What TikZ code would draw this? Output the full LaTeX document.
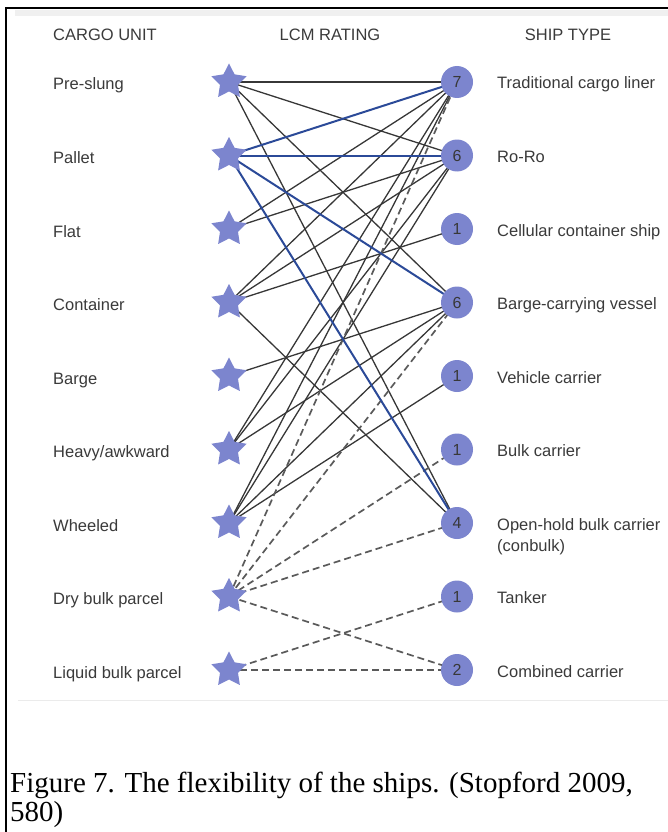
\documentclass[tikz,border=0pt]{standalone}
\usepackage{fontspec}
\setmainfont{Liberation Sans}
\newfontfamily\capfont{Liberation Serif}
\usetikzlibrary{shapes.geometric,backgrounds}
\definecolor{starblue}{RGB}{124,133,206}
\definecolor{lineblue}{RGB}{43,74,152}
\definecolor{txt}{RGB}{58,58,58}
\definecolor{darkline}{RGB}{55,55,55}
\definecolor{dashline}{RGB}{90,90,90}
\begin{document}
\begin{tikzpicture}[x=1pt,y=-1pt,
  lbl/.style={anchor=base west, inner sep=0pt, text=txt, font=\fontsize{16.5}{19}\selectfont},
  hdr/.style={anchor=base, inner sep=0pt, text=txt, font=\fontsize{16.5}{19}\selectfont},
  cargostar/.style={star, star points=5, star point ratio=1.95, fill=starblue, draw=none, minimum size=37pt, inner sep=0pt},
  rating/.style={circle, fill=starblue, draw=none, minimum size=32pt, inner sep=0pt, text=black!78, font=\fontsize{16}{16}\selectfont},
  link/.style={draw=darkline, line width=1.3pt},
  blink/.style={draw=lineblue, line width=2pt},
  dlink/.style={draw=dashline, line width=1.7pt, dash pattern=on 7pt off 4pt},
  caption/.style={anchor=base west, inner sep=0pt, text=black, font=\capfont\fontsize{29}{30}\selectfont},
]
\useasboundingbox (0,0) rectangle (668,832);

% frame
\fill[black!6] (15,10) rectangle (668,16);
\draw[black!8, line width=1pt] (18,700) -- (668,700);
\draw[black, line width=2pt] (6,832) -- (6,8) -- (668,8);

% headers
\node[lbl] (h1) at (53,41) {CARGO UNIT};
\node[hdr] (h2) at (330,41) {LCM RATING};
\node[hdr] (h3) at (568,41) {SHIP TYPE};

% cargo units
\node[cargostar] (c1) at (229,82) {};
\node[cargostar] (c2) at (229,155.5) {};
\node[cargostar] (c3) at (229,229) {};
\node[cargostar] (c4) at (229,302.5) {};
\node[cargostar] (c5) at (229,376) {};
\node[cargostar] (c6) at (229,449.5) {};
\node[cargostar] (c7) at (229,523) {};
\node[cargostar] (c8) at (229,596.5) {};
\node[cargostar] (c9) at (229,670) {};

\node[lbl] (l1) at (53,90) {Pre-slung};
\node[lbl] (l2) at (53,163.5) {Pallet};
\node[lbl] (l3) at (53,237) {Flat};
\node[lbl] (l4) at (53,310.5) {Container};
\node[lbl] (l5) at (53,384) {Barge};
\node[lbl] (l6) at (53,457.5) {Heavy/awkward};
\node[lbl] (l7) at (53,531) {Wheeled};
\node[lbl] (l8) at (53,604.5) {Dry bulk parcel};
\node[lbl] (l9) at (53,678) {Liquid bulk parcel};

% ship types
\node[rating] (s1) at (457,82) {7};
\node[rating] (s2) at (457,155.5) {6};
\node[rating] (s3) at (457,229) {1};
\node[rating] (s4) at (457,302.5) {6};
\node[rating] (s5) at (457,376) {1};
\node[rating] (s6) at (457,449.5) {1};
\node[rating] (s7) at (457,523) {4};
\node[rating] (s8) at (457,596.5) {1};
\node[rating] (s9) at (457,670) {2};

\node[lbl] (r1) at (497,89) {Traditional cargo liner};
\node[lbl] (r2) at (497,162.5) {Ro-Ro};
\node[lbl] (r3) at (497,236) {Cellular container ship};
\node[lbl] (r4) at (497,309.5) {Barge-carrying vessel};
\node[lbl] (r5) at (497,383) {Vehicle carrier};
\node[lbl] (r6) at (497,456.5) {Bulk carrier};
\node[lbl] (r7) at (497,530) {Open-hold bulk carrier};
\node[lbl] (r7b) at (497,551) {(conbulk)};
\node[lbl] (r8) at (497,603.5) {Tanker};
\node[lbl] (r9) at (497,677) {Combined carrier};

% caption
\node[caption] (cap1) at (10,792) {Figure 7. The flexibility of the ships. (Stopford 2009,};
\node[caption] (cap2) at (10,821) {580)};

% connectors
\begin{scope}[on background layer]
  \draw[link] (c1.center) -- (s1.center);
  \draw[link] (c1.center) -- (s2.center);
  \draw[link] (c1.center) -- (s4.center);
  \draw[link] (c1.center) -- (s7.center);
  \draw[link] (c3.center) -- (s1.center);
  \draw[link] (c3.center) -- (s2.center);
  \draw[link] (c4.center) -- (s1.center);
  \draw[link] (c4.center) -- (s2.center);
  \draw[link] (c4.center) -- (s3.center);
  \draw[link] (c4.center) -- (s7.center);
  \draw[link] (c5.center) -- (s4.center);
  \draw[link] (c6.center) -- (s1.center);
  \draw[link] (c6.center) -- (s2.center);
  \draw[link] (c6.center) -- (s4.center);
  \draw[link] (c7.center) -- (s1.center);
  \draw[link] (c7.center) -- (s2.center);
  \draw[link] (c7.center) -- (s4.center);
  \draw[link] (c7.center) -- (s5.center);
  \draw[dlink] (c8.center) -- (s1.center);
  \draw[dlink] (c8.center) -- (s4.center);
  \draw[dlink] (c8.center) -- (s6.center);
  \draw[dlink] (c8.center) -- (s7.center);
  \draw[dlink] (c8.center) -- (s9.center);
  \draw[dlink] (c9.center) -- (s8.center);
  \draw[dlink] (c9.center) -- (s9.center);
  \draw[blink] (c2.center) -- (s1.center);
  \draw[blink] (c2.center) -- (s2.center);
  \draw[blink] (c2.center) -- (s4.center);
  \draw[blink] (c2.center) -- (s7.center);
\end{scope}
\end{tikzpicture}
\end{document}
